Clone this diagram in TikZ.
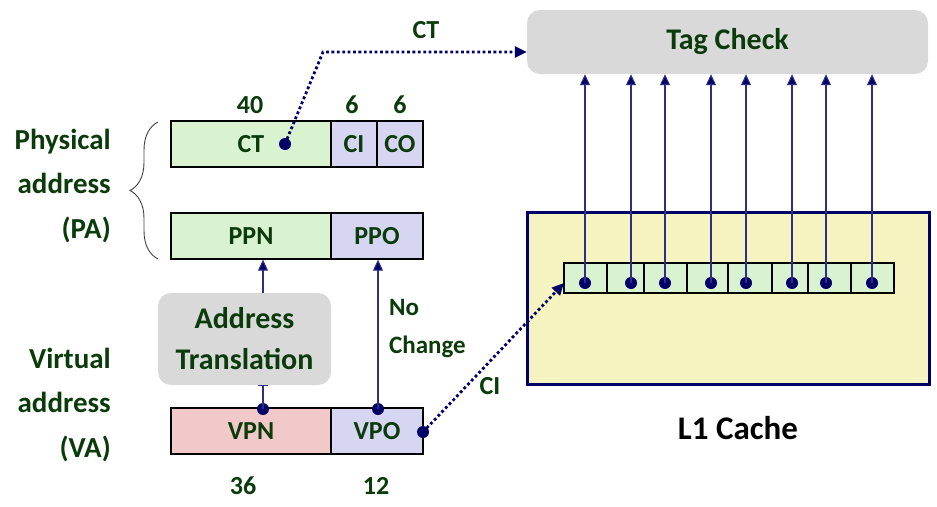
\documentclass[tikz,border=0pt]{standalone}
\usepackage{fontspec}
\setmainfont{Carlito}
\usetikzlibrary{arrows.meta,decorations.pathreplacing}
\definecolor{tgreen}{HTML}{0B3B0B}
\definecolor{fgreen}{HTML}{D9F2D0}
\definecolor{fblue}{HTML}{D6D6F3}
\definecolor{fpink}{HTML}{F2C9C9}
\definecolor{fgray}{HTML}{D9D9D9}
\definecolor{fyellow}{HTML}{F5F3C0}
\definecolor{navy}{HTML}{000066}
\definecolor{wire}{HTML}{2E2E85}
\tikzset{
  fld/.style={draw=black, line width=1.3pt, minimum height=46pt, inner sep=0pt, text=tgreen,
    font=\fontsize{26}{30}\selectfont\bfseries},
  cell/.style={draw=black, line width=1.8pt, fill=fgreen, minimum height=30pt, inner sep=0pt},
  lbl/.style={text=tgreen, inner sep=0pt, font=\fontsize{26}{30}\selectfont\bfseries},
  side/.style={text=tgreen, inner sep=0pt, align=right, font=\fontsize{29}{44.5}\selectfont\bfseries},
  gbox/.style={fill=fgray, rounded corners=13pt, inner sep=0pt, text=tgreen},
  dotm/.style={circle, fill=navy, minimum size=12pt, inner sep=0pt},
  wirearrow/.style={draw=wire, line width=1.1pt, -{Triangle[width=10pt,length=11pt,fill=navy]}},
  dotline/.style={draw=navy, line width=2.8pt, dash pattern=on 2.8pt off 2.6pt,
    -{Triangle[width=11pt,length=12pt,fill=navy]}},
}
\begin{document}
\begin{tikzpicture}[x=1pt,y=-1pt]
\useasboundingbox (0,0) rectangle (937,506);

% side labels
\node[side, anchor=east] (pa) at (111,186) {Physical\\address\\(PA)};
\node[side, anchor=east] (va) at (111,405) {Virtual\\address\\(VA)};
\draw[black!75, line width=0.9pt, decorate, decoration={brace, amplitude=28pt, aspect=0.5}]
  (158,259) -- (158,122);

% physical address rows
\node[fld, fill=fgreen, minimum width=160pt] (ct) at (251,144) {CT};
\node[fld, fill=fblue, minimum width=46pt] (ci) at (354,144) {CI};
\node[fld, fill=fblue, minimum width=46pt] (co) at (400,144) {CO};
\node[fld, fill=fgreen, minimum width=160pt] (ppn) at (251,236) {PPN};
\node[fld, fill=fblue, minimum width=92pt] (ppo) at (377,236) {PPO};
\node[lbl] (n40) at (250,105) {40};
\node[lbl] (n6a) at (352,105) {6};
\node[lbl] (n6b) at (400,105) {6};

% virtual address row
\node[fld, fill=fpink, minimum width=160pt] (vpn) at (251,431) {VPN};
\node[fld, fill=fblue, minimum width=92pt] (vpo) at (377,431) {VPO};
\node[lbl] (n36) at (243,486) {36};
\node[lbl] (n12) at (376,486) {12};

% address translation
\node[gbox, minimum width=173pt, minimum height=92pt, align=center,
  font=\fontsize{30}{41}\selectfont\bfseries] (at) at (244.5,339) {Address\\Translation};

% tag check
\node[gbox, minimum width=401pt, minimum height=64pt,
  font=\fontsize{30}{36}\selectfont\bfseries] (tag) at (727.5,42) {Tag Check};
\node[lbl] (ctl) at (426,30) {CT};

% L1 cache
\node[draw=navy, line width=3pt, fill=fyellow, minimum width=402pt, minimum height=172pt, inner sep=0pt]
  (l1) at (728,298.5) {};
\node[inner sep=0pt, font=\fontsize{33}{40}\selectfont\bfseries] (l1l) at (738,428) {L1 Cache};

\node[cell, minimum width=43pt] (c1) at (585.5,278) {};
\node[cell, minimum width=37pt] (c2) at (625.5,278) {};
\node[cell, minimum width=43pt] (c3) at (665.5,278) {};
\node[cell, minimum width=41pt] (c4) at (707.5,278) {};
\node[cell, minimum width=44pt] (c5) at (750,278) {};
\node[cell, minimum width=36pt] (c6) at (790,278) {};
\node[cell, minimum width=43pt] (c7) at (829.5,278) {};
\node[cell, minimum width=43pt] (c8) at (872.5,278) {};

\foreach \i/\x in {1/585,2/631,3/665,4/711,5/746,6/792,7/826,8/872}{
  \node[dotm] (d\i) at (\x,283) {};
  \draw[wirearrow] (d\i.center) -- (d\i |- tag.south);
}

% No change
\node[lbl, anchor=west, align=left, font=\fontsize{25}{38}\selectfont\bfseries] (nc) at (389,329) {No\\Change};
\node[lbl] (cil) at (490,386) {CI};

% dots and lines
\node[dotm] (ctd) at (285,144) {};
\node[dotm] (vpnd) at (263,409) {};
\node[dotm] (vpod) at (378,409) {};
\node[dotm] (vpoe) at (423,432) {};
\coordinate (ctk) at (323,52);
\coordinate (citip) at (564,283);

\draw[wire, line width=1.1pt, -{Bar[width=10pt]}] (vpnd.center) -- (vpnd |- at.south);
\draw[wirearrow] (at.north -| vpnd) -- (vpnd |- ppn.south);
\draw[wirearrow] (vpod.center) -- (vpod |- ppo.south);

\draw[dotline] (ctd.center) -- (ctk) -- (tag.west |- ctk);
\draw[dotline] (vpoe.center) -- (citip);
\end{tikzpicture}
\end{document}
